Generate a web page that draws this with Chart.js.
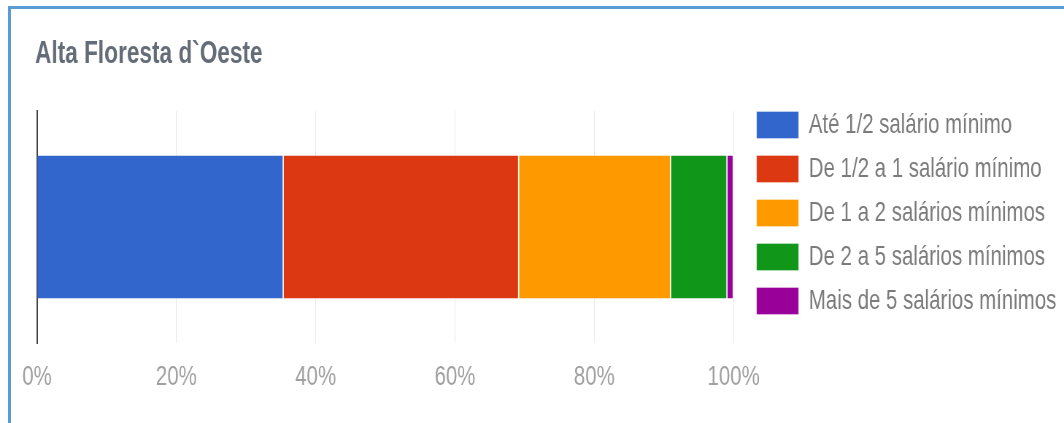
<!DOCTYPE html>
<html>
<head>
<meta charset="utf-8">
<script src="https://cdn.jsdelivr.net/npm/chart.js@4/dist/chart.umd.min.js"></script>
<style>
  html, body { margin: 0; padding: 0; background: #fff; overflow: hidden; }
  #wrap { position: relative; width: 1064px; height: 423px; overflow: hidden; }
  #chart { position: absolute; left: 0; top: 0; }
  #frame { position: absolute; left: 8px; top: 6px; width: 1100px; height: 500px; border: 3px solid #5b9bd5; pointer-events: none; }
</style>
</head>
<body>
<div id="wrap">
  <canvas id="chart" width="1458" height="423" style="width:1064px;height:423px"></canvas>
  <div id="frame"></div>
</div>
<script>
// the source picture is squeezed sideways, so the canvas is drawn wider and shown at 1064px

const categories = ['Alta Floresta d`Oeste'];
const seriesNames = [
  'Até 1/2 salário mínimo',
  'De 1/2 a 1 salário mínimo',
  'De 1 a 2 salários mínimos',
  'De 2 a 5 salários mínimos',
  'Mais de 5 salários mínimos'
];
const seriesValues = [35.4, 33.8, 21.8, 8.1, 0.9];
const seriesColors = ['#3366cc', '#dc3912', '#ff9900', '#109618', '#990099'];
const xTickValues = [0, 20, 40, 60, 80, 100];

Chart.defaults.font.family = "'Liberation Sans', Arial, sans-serif";

const datasets = seriesNames.map((name, i) => ({
  label: name,
  data: [seriesValues[i]],
  backgroundColor: seriesColors[i],
  borderColor: '#ffffff',
  borderWidth: { top: 0, right: 1.4, bottom: 0, left: 0 },
  borderSkipped: false,
  categoryPercentage: 0.617,
  barPercentage: 1
}));

// line the first legend row up with the top of the plot
const legendOffset = {
  id: 'legendOffset',
  afterLayout(chart) {
    const legend = chart.legend;
    const dy = chart.chartArea.top - legend.top - legend.options.labels.padding;
    legend.top += dy;
    legend.bottom += dy;
  }
};

const ctx = document.getElementById('chart').getContext('2d');
new Chart(ctx, {
  type: 'bar',
  data: { labels: categories, datasets: datasets },
  plugins: [legendOffset],
  options: {
    indexAxis: 'y',
    responsive: false,
    animation: false,
    layout: { padding: { left: 48, top: 0, right: 0.5, bottom: 12.4 } },
    plugins: {
      title: {
        display: true,
        text: categories[0],
        align: 'start',
        color: '#646c78',
        font: { size: 31, weight: 'bold' },
        padding: { top: 35.8, bottom: 38 }
      },
      legend: {
        position: 'right',
        align: 'start',
        maxWidth: 700,
        labels: {
          boxWidth: 57.5,
          boxHeight: 27,
          padding: 16,
          color: '#7b7b7b',
          font: { size: 28 }
        }
      },
      tooltip: { enabled: false }
    },
    scales: {
      x: {
        stacked: true,
        min: 0,
        max: 100,
        afterBuildTicks: (scale) => { scale.ticks = xTickValues.map(v => ({ value: v })); },
        grid: { color: '#e8e8e8', drawTicks: false },
        border: { display: false },
        ticks: {
          color: '#a0a0a0',
          font: { size: 28 },
          padding: 17,
          maxRotation: 0,
          callback: (v) => v + '%'
        }
      },
      y: {
        stacked: true,
        grid: { display: false },
        ticks: { display: false },
        border: { display: true, color: '#444', width: 2 },
        afterFit: (scale) => { scale.width = 2.7; }
      },
      y2: {
        type: 'linear',
        position: 'right',
        grid: { display: false },
        ticks: { display: false },
        border: { display: false },
        afterFit: (scale) => { scale.width = 15.5; }
      }
    }
  }
});
</script>
</body>
</html>
